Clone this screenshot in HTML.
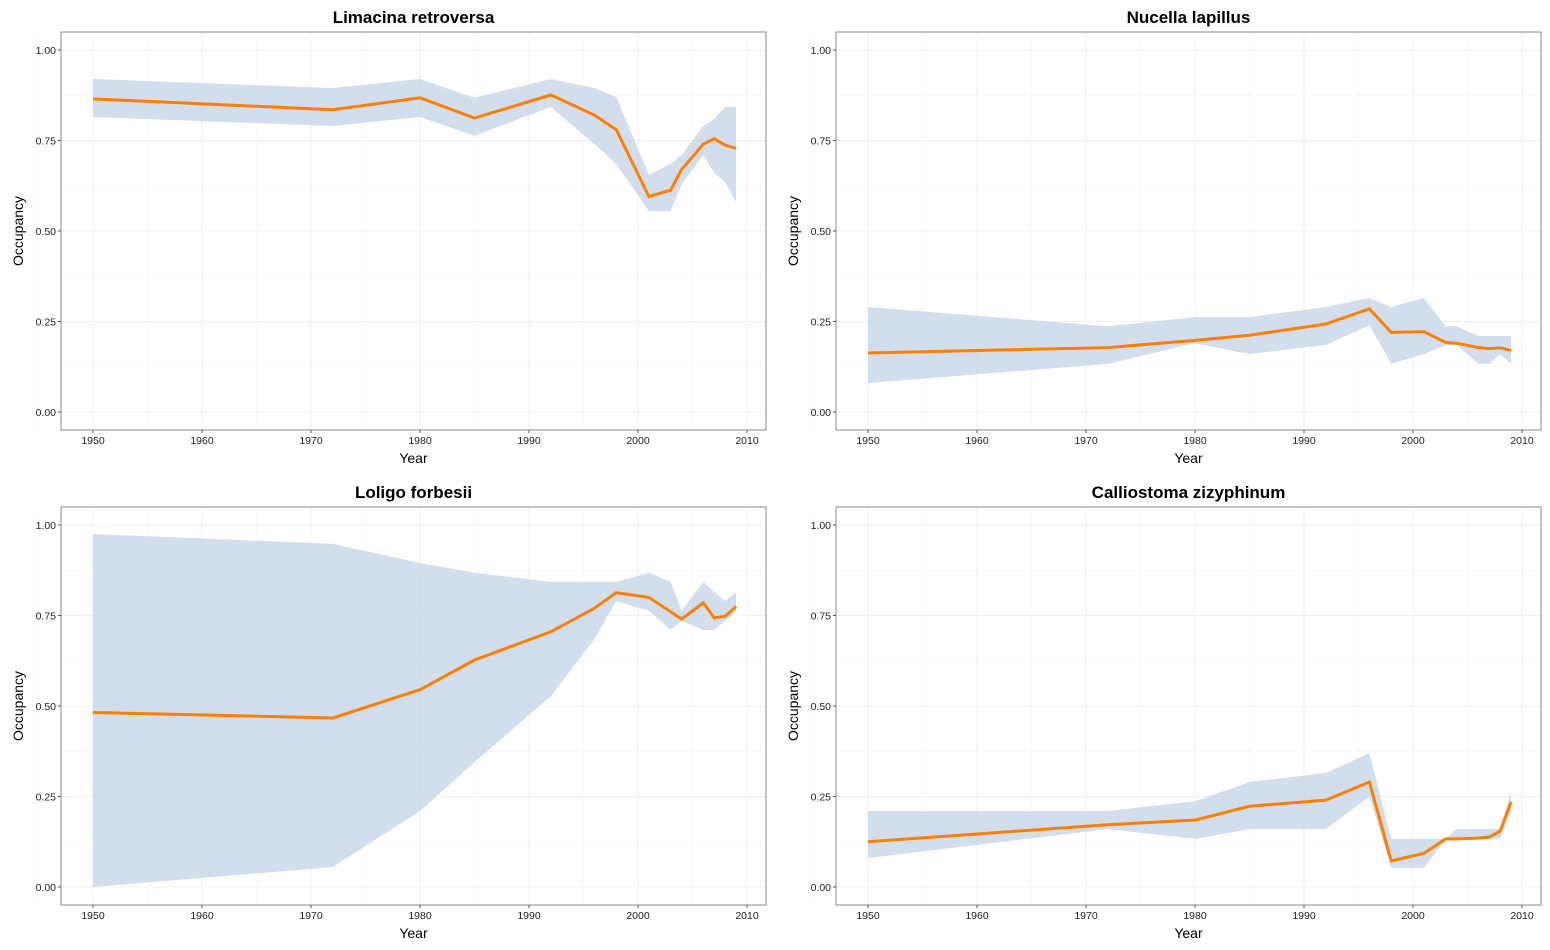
<!DOCTYPE html>
<html><head><meta charset="utf-8">
<style>html,body{margin:0;padding:0;background:#fff;}svg{display:block;font-family:"Liberation Sans",Arial,sans-serif;}</style>
</head><body>
<svg id="s" width="1550" height="950" xmlns="http://www.w3.org/2000/svg"></svg>
<script>
const yrs=[1950,1972,1980,1985,1992,1996,1998,2001,2003,2004,2006,2007,2008,2009];
const P=[
{t:"Limacina retroversa",ox:0,oy:0,
l:[.865,.835,.868,.812,.876,.82,.78,.595,.613,.67,.74,.755,.737,.728],
u:[.92,.895,.92,.868,.92,.895,.87,.655,.685,.71,.79,.81,.843,.843],
d:[.815,.79,.815,.763,.843,.74,.685,.555,.555,.63,.71,.66,.635,.58]},
{t:"Nucella lapillus",ox:775,oy:0,
l:[.163,.178,.198,.212,.243,.285,.22,.222,.192,.19,.178,.175,.177,.17],
u:[.29,.237,.262,.262,.29,.315,.29,.315,.237,.237,.21,.21,.21,.21],
d:[.08,.133,.19,.16,.185,.24,.133,.16,.185,.185,.133,.133,.16,.133]},
{t:"Loligo forbesii",ox:0,oy:475,
l:[.482,.467,.545,.627,.705,.77,.813,.8,.76,.74,.785,.743,.748,.775],
u:[.975,.948,.895,.868,.843,.843,.843,.868,.843,.763,.843,.815,.79,.815],
d:[0,.055,.21,.345,.527,.685,.79,.763,.71,.735,.71,.71,.735,.763]},
{t:"Calliostoma zizyphinum",ox:775,oy:475,
l:[.125,.172,.185,.223,.24,.29,.072,.093,.133,.133,.135,.138,.155,.235],
u:[.21,.21,.237,.29,.315,.37,.133,.133,.133,.16,.16,.16,.16,.265],
d:[.08,.16,.133,.16,.16,.25,.053,.053,.133,.133,.133,.133,.135,.21]}];
let h="";
for(const p of P){
 const X=y=>p.ox+93+(y-1950)*654/60, Y=v=>p.oy+412-v*362;
 const x0=p.ox+61,x1=p.ox+766,y0=p.oy+32,y1=p.oy+430;
 for(let y=1945;y<=2010;y+=5){const mj=y%10==0;h+=`<line x1="${X(y)}" x2="${X(y)}" y1="${y0}" y2="${y1}" stroke="${mj?'#ececec':'#f6f6f6'}" stroke-width="${mj?0.8:0.5}"/>`;}
 for(let i=0;i<=9;i++){const v=-0.125+i*0.125;if(v<-0.05)continue;const mj=i%2==1;h+=`<line x1="${x0}" x2="${x1}" y1="${Y(v)}" y2="${Y(v)}" stroke="${mj?'#ececec':'#f6f6f6'}" stroke-width="${mj?0.8:0.5}"/>`;}
 let pts=yrs.map((y,i)=>X(y)+","+Y(p.u[i])).concat(yrs.map((y,i)=>X(y)+","+Y(p.d[i])).reverse());
 h+=`<polygon points="${pts.join(" ")}" fill="#bccfe1" fill-opacity="0.68"/>`;
 h+=`<polyline points="${yrs.map((y,i)=>X(y)+","+Y(p.l[i])).join(" ")}" fill="none" stroke="#ff7f00" stroke-width="3"/>`;
 h+=`<rect x="${x0}" y="${y0}" width="${x1-x0}" height="${y1-y0}" fill="none" stroke="#888" stroke-width="1"/>`;
 for(let y=1950;y<=2010;y+=10){h+=`<line x1="${X(y)}" x2="${X(y)}" y1="${y1}" y2="${y1+3}" stroke="#555"/><text x="${X(y)}" y="${y1+14}" font-size="10.5" text-anchor="middle" fill="#222">${y}</text>`;}
 for(let v=0;v<=1;v+=0.25){h+=`<line x1="${x0-3}" x2="${x0}" y1="${Y(v)}" y2="${Y(v)}" stroke="#555"/><text x="${x0-5}" y="${Y(v)+4}" font-size="10.5" text-anchor="end" fill="#222">${v.toFixed(2)}</text>`;}
 h+=`<text x="${(x0+x1)/2}" y="${p.oy+23}" font-size="17" font-weight="bold" text-anchor="middle">${p.t}</text>`;
 h+=`<text x="${(x0+x1)/2}" y="${p.oy+463}" font-size="14" text-anchor="middle">Year</text>`;
 h+=`<text transform="translate(${p.ox+23},${(y0+y1)/2}) rotate(-90)" font-size="14" text-anchor="middle">Occupancy</text>`;
}
document.getElementById("s").innerHTML=h;
</script>
</body></html>
